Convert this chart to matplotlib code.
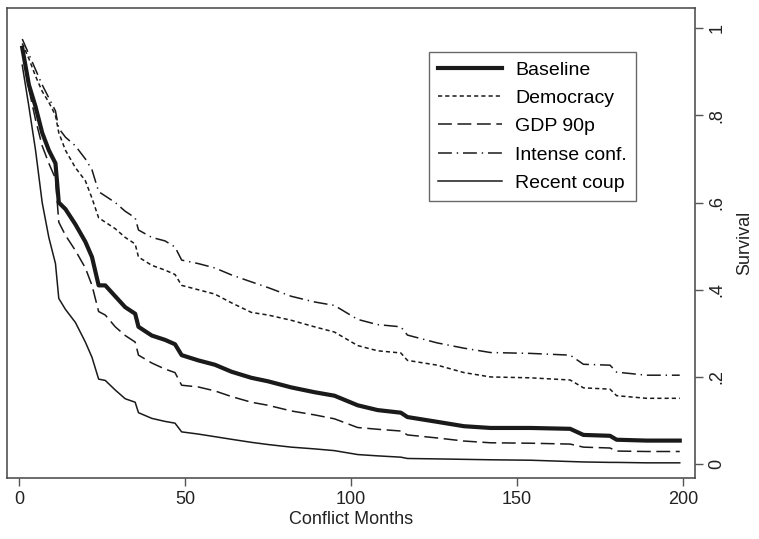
import matplotlib
matplotlib.use("Agg")
import matplotlib.pyplot as plt

plt.rcParams['font.family'] = ['Liberation Sans', 'DejaVu Sans']
plt.rcParams['lines.scale_dashes'] = False

# Meses de conflicto (tiempos de lectura de las curvas)
months = [1, 3, 5, 7, 9, 11, 12, 14, 17, 20, 22, 24, 26, 29, 32, 35, 36, 40, 44, 47,
          49, 54, 59, 64, 70, 75, 82, 89, 95, 102, 108, 115, 117, 126, 134, 142,
          154, 166, 170, 178, 180, 189, 199]

baseline = [0.955, 0.87, 0.82, 0.76, 0.72, 0.69, 0.60, 0.585, 0.55, 0.51, 0.475, 0.41,
            0.41, 0.385, 0.36, 0.345, 0.315, 0.295, 0.285, 0.275, 0.25, 0.238, 0.228,
            0.212, 0.198, 0.19, 0.176, 0.165, 0.157, 0.135, 0.124, 0.118, 0.108, 0.097,
            0.087, 0.083, 0.083, 0.081, 0.067, 0.065, 0.056, 0.054, 0.054]
democracy = [0.965, 0.93, 0.89, 0.855, 0.83, 0.80, 0.76, 0.72, 0.68, 0.65, 0.61, 0.565,
             0.555, 0.54, 0.52, 0.505, 0.475, 0.456, 0.445, 0.435, 0.41, 0.40, 0.39,
             0.37, 0.348, 0.342, 0.33, 0.315, 0.303, 0.272, 0.26, 0.255, 0.238, 0.227,
             0.21, 0.2, 0.198, 0.193, 0.175, 0.172, 0.157, 0.151, 0.151]
gdp90 = [0.95, 0.86, 0.79, 0.73, 0.69, 0.655, 0.555, 0.525, 0.49, 0.45, 0.41, 0.35,
         0.342, 0.315, 0.295, 0.28, 0.25, 0.232, 0.218, 0.21, 0.181, 0.177, 0.168,
         0.155, 0.142, 0.135, 0.122, 0.113, 0.104, 0.084, 0.08, 0.076, 0.067, 0.06,
         0.053, 0.049, 0.048, 0.046, 0.039, 0.037, 0.03, 0.029, 0.029]
intense = [0.975, 0.94, 0.905, 0.87, 0.84, 0.81, 0.77, 0.75, 0.73, 0.70, 0.675, 0.625,
           0.615, 0.60, 0.58, 0.565, 0.537, 0.52, 0.512, 0.498, 0.468, 0.46, 0.45,
           0.434, 0.418, 0.405, 0.385, 0.372, 0.364, 0.332, 0.32, 0.315, 0.296, 0.278,
           0.266, 0.256, 0.254, 0.25, 0.229, 0.227, 0.211, 0.204, 0.204]
coup = [0.915, 0.82, 0.72, 0.60, 0.52, 0.46, 0.38, 0.355, 0.325, 0.28, 0.245, 0.195,
        0.192, 0.17, 0.15, 0.142, 0.118, 0.105, 0.098, 0.094, 0.074, 0.069, 0.063,
        0.057, 0.05, 0.045, 0.039, 0.035, 0.031, 0.022, 0.019, 0.016, 0.013, 0.012,
        0.011, 0.01, 0.009, 0.006, 0.005, 0.004, 0.004, 0.003, 0.003]

x_ticks = [0, 50, 100, 150, 200]
y_ticks = [0, 0.2, 0.4, 0.6, 0.8, 1]
y_labels = ['0', '.2', '.4', '.6', '.8', '1']

fig = plt.figure(figsize=(7.59, 5.39), dpi=100)
ax = fig.add_axes([0.0092, 0.113, 0.9065, 0.872])

ax.plot(months, baseline, color='#1a1a1a', lw=3.0, label='Baseline')
ax.plot(months, democracy, color='#1a1a1a', lw=1.1, dashes=(3, 2.2), label='Democracy')
ax.plot(months, gdp90, color='#1a1a1a', lw=1.1, dashes=(10, 4), label='GDP 90p')
ax.plot(months, intense, color='#1a1a1a', lw=1.1, dashes=(10, 3.5, 1, 3.5), label='Intense conf.')
ax.plot(months, coup, color='#1a1a1a', lw=1.1, label='Recent coup')

ax.set_xlim(-3.6, 203.6)
ax.set_ylim(-0.032, 1.046)
ax.set_xticks(x_ticks)
ax.set_yticks(y_ticks)
ax.set_yticklabels(y_labels, rotation=90, va='center')
ax.yaxis.tick_right()
ax.yaxis.set_label_position('right')
ax.tick_params(axis='both', direction='out', length=6, width=1, color='#555555',
               labelsize=13, labelcolor='#222222')
for s in ax.spines.values():
    s.set_color('#444444')
    s.set_linewidth(1.1)

ax.set_xlabel('Conflict Months', fontsize=13, color='#222222', labelpad=2)
ax.set_ylabel('Survival', fontsize=13, color='#222222', labelpad=8)

leg = ax.legend(loc='upper right', bbox_to_anchor=(0.914, 0.906), fontsize=14,
                frameon=True, fancybox=False, handlelength=3.3, handletextpad=0.7,
                borderpad=0.45, labelspacing=0.55, borderaxespad=0)
leg.get_frame().set_edgecolor('#444444')
leg.get_frame().set_linewidth(1.0)

fig.savefig('out.png', dpi=100)
